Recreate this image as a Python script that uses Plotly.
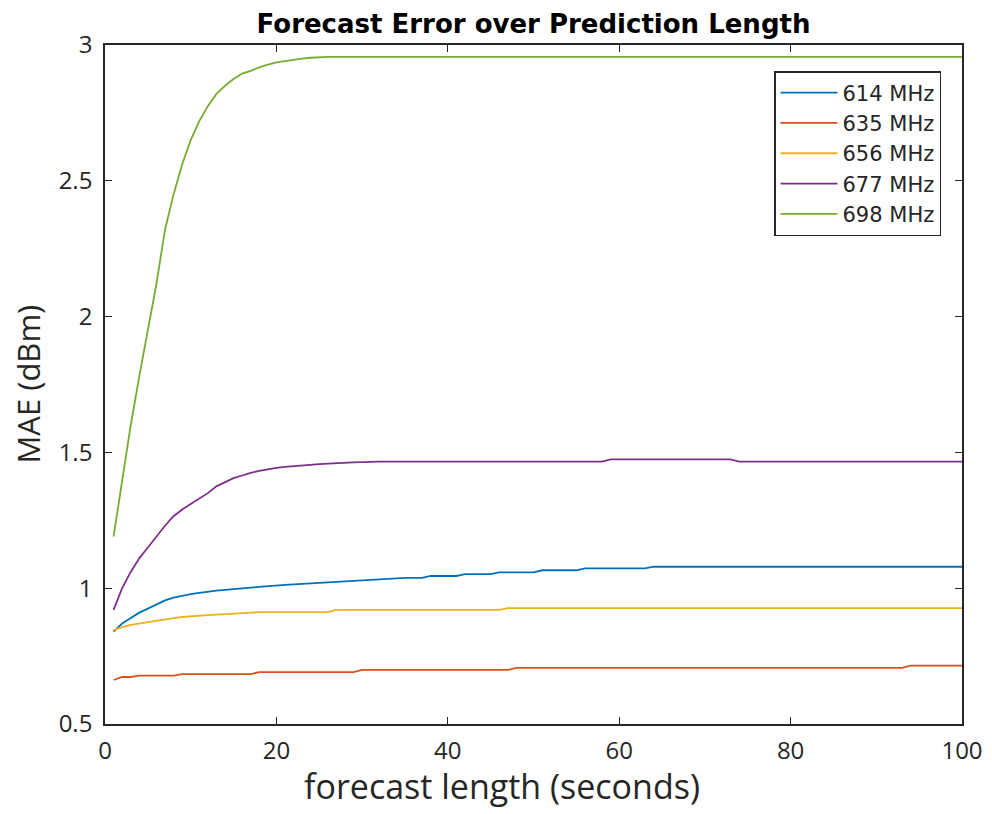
import plotly.graph_objects as go

forecast_len = list(range(1, 101))

series_names = ["614 MHz", "635 MHz", "656 MHz", "677 MHz", "698 MHz"]
series_colors = ["#0072BD", "#D95319", "#EDB120", "#7E2F8E", "#77AC30"]

mae_614 = [0.840, 0.870, 0.890, 0.910, 0.925, 0.940, 0.955, 0.965, 0.972, 0.978,
           0.983, 0.988, 0.991, 0.994, 0.996, 0.999, 1.002, 1.005, 1.008, 1.010,
           1.012, 1.014, 1.016, 1.018, 1.020, 1.022, 1.024, 1.026, 1.028, 1.030,
           1.031, 1.033, 1.035, 1.036, 1.038, 1.038, 1.038, 1.045, 1.045, 1.045,
           1.045, 1.052, 1.052, 1.052, 1.052, 1.058, 1.058, 1.058, 1.058, 1.058,
           1.066, 1.066, 1.066, 1.066, 1.066, 1.073, 1.073, 1.073, 1.073, 1.073,
           1.073, 1.073, 1.073, 1.079, 1.079, 1.079, 1.079, 1.079, 1.079, 1.079,
           1.079, 1.079, 1.079, 1.079, 1.079, 1.079, 1.079, 1.079, 1.079, 1.079,
           1.079, 1.079, 1.079, 1.079, 1.079, 1.079, 1.079, 1.079, 1.079, 1.079,
           1.079, 1.079, 1.079, 1.079, 1.079, 1.079, 1.079, 1.079, 1.079, 1.079]

mae_635 = [0.662, 0.673, 0.673, 0.678, 0.678, 0.678, 0.678, 0.678, 0.684, 0.684,
           0.684, 0.684, 0.684, 0.684, 0.684, 0.684, 0.684, 0.691, 0.691, 0.691,
           0.691, 0.691, 0.691, 0.691, 0.691, 0.691, 0.691, 0.691, 0.691, 0.699,
           0.699, 0.699, 0.699, 0.699, 0.699, 0.699, 0.699, 0.699, 0.699, 0.699,
           0.699, 0.699, 0.699, 0.699, 0.699, 0.699, 0.699, 0.707, 0.707, 0.707,
           0.707, 0.707, 0.707, 0.707, 0.707, 0.707, 0.707, 0.707, 0.707, 0.707,
           0.707, 0.707, 0.707, 0.707, 0.707, 0.707, 0.707, 0.707, 0.707, 0.707,
           0.707, 0.707, 0.707, 0.707, 0.707, 0.707, 0.707, 0.707, 0.707, 0.707,
           0.707, 0.707, 0.707, 0.707, 0.707, 0.707, 0.707, 0.707, 0.707, 0.707,
           0.707, 0.707, 0.707, 0.715, 0.715, 0.715, 0.715, 0.715, 0.715, 0.715]

mae_656 = [0.846, 0.857, 0.865, 0.870, 0.875, 0.882, 0.886, 0.890, 0.894, 0.897,
           0.899, 0.901, 0.903, 0.905, 0.906, 0.908, 0.912, 0.912, 0.912, 0.912,
           0.912, 0.912, 0.912, 0.912, 0.912, 0.912, 0.920, 0.920, 0.920, 0.920,
           0.920, 0.920, 0.920, 0.920, 0.920, 0.920, 0.920, 0.920, 0.920, 0.920,
           0.920, 0.920, 0.920, 0.920, 0.920, 0.920, 0.927, 0.927, 0.927, 0.927,
           0.927, 0.927, 0.927, 0.927, 0.927, 0.927, 0.927, 0.927, 0.927, 0.927,
           0.927, 0.927, 0.927, 0.927, 0.927, 0.927, 0.927, 0.927, 0.927, 0.927,
           0.927, 0.927, 0.927, 0.927, 0.927, 0.927, 0.927, 0.927, 0.927, 0.927,
           0.927, 0.927, 0.927, 0.927, 0.927, 0.927, 0.927, 0.927, 0.927, 0.927,
           0.927, 0.927, 0.927, 0.927, 0.927, 0.927, 0.927, 0.927, 0.927, 0.927]

mae_677 = [0.920, 1.000, 1.060, 1.110, 1.150, 1.190, 1.230, 1.265, 1.290, 1.310,
           1.330, 1.350, 1.375, 1.390, 1.405, 1.415, 1.425, 1.432, 1.438, 1.443,
           1.447, 1.450, 1.453, 1.455, 1.457, 1.459, 1.461, 1.462, 1.463, 1.464,
           1.466, 1.466, 1.466, 1.466, 1.466, 1.466, 1.466, 1.466, 1.466, 1.466,
           1.466, 1.466, 1.466, 1.466, 1.466, 1.466, 1.466, 1.466, 1.466, 1.466,
           1.466, 1.466, 1.466, 1.466, 1.466, 1.466, 1.466, 1.466, 1.474, 1.474,
           1.474, 1.474, 1.474, 1.474, 1.474, 1.474, 1.474, 1.474, 1.474, 1.474,
           1.474, 1.474, 1.474, 1.466, 1.466, 1.466, 1.466, 1.466, 1.466, 1.466,
           1.466, 1.466, 1.466, 1.466, 1.466, 1.466, 1.466, 1.466, 1.466, 1.466,
           1.466, 1.466, 1.466, 1.466, 1.466, 1.466, 1.466, 1.466, 1.466, 1.466]

mae_698 = [1.190, 1.400, 1.600, 1.780, 1.950, 2.120, 2.320, 2.450, 2.560, 2.650,
           2.720, 2.775, 2.820, 2.850, 2.875, 2.895, 2.905, 2.918, 2.928, 2.936,
           2.941, 2.946, 2.950, 2.953, 2.955, 2.956, 2.956, 2.956, 2.956, 2.956,
           2.956, 2.956, 2.956, 2.956, 2.956, 2.956, 2.956, 2.956, 2.956, 2.956,
           2.956, 2.956, 2.956, 2.956, 2.956, 2.956, 2.956, 2.956, 2.956, 2.956,
           2.956, 2.956, 2.956, 2.956, 2.956, 2.956, 2.956, 2.956, 2.956, 2.956,
           2.956, 2.956, 2.956, 2.956, 2.956, 2.956, 2.956, 2.956, 2.956, 2.956,
           2.956, 2.956, 2.956, 2.956, 2.956, 2.956, 2.956, 2.956, 2.956, 2.956,
           2.956, 2.956, 2.956, 2.956, 2.956, 2.956, 2.956, 2.956, 2.956, 2.956,
           2.956, 2.956, 2.956, 2.956, 2.956, 2.956, 2.956, 2.956, 2.956, 2.956]

all_series = [mae_614, mae_635, mae_656, mae_677, mae_698]

x_ticks = [0, 20, 40, 60, 80, 100]
y_ticks = [0.5, 1, 1.5, 2, 2.5, 3]
y_tick_labels = ["0.5", "1", "1.5", "2", "2.5", "3"]

fig = go.Figure()
for name, color, vals in zip(series_names, series_colors, all_series):
    fig.add_trace(go.Scatter(
        x=forecast_len, y=vals, name=name, mode="lines",
        line=dict(color=color, width=1.8), legendgroup=name,
    ))

axis_color = "#262626"
fig.update_layout(
    width=992, height=814,
    paper_bgcolor="white", plot_bgcolor="white",
    margin=dict(l=97, r=38, t=37, b=98),
    title=dict(
        text="<b>Forecast Error over Prediction Length</b>",
        x=0.5, xref="paper", xanchor="center", y=1 - 16 / 814, yanchor="middle",
        yref="container",
        font=dict(family="DejaVu Sans", size=26, color="black"),
    ),
    font=dict(family="Open Sans", color=axis_color),
    showlegend=True,
    legend=dict(
        x=0.9755, xanchor="right", y=0.9617, yanchor="top",
        bgcolor="white", bordercolor=axis_color, borderwidth=1.5,
        font=dict(family="DejaVu Sans", size=21, color=axis_color),
        itemwidth=57, tracegroupgap=0,
    ),
    annotations=[
        dict(text="forecast length (seconds)", xref="paper", yref="paper",
             x=0.463, y=-0.0913, xanchor="center", yanchor="middle",
             showarrow=False,
             font=dict(family="Open Sans", size=34, color=axis_color)),
        dict(text="MAE (dBm)", xref="paper", yref="paper",
             x=-0.091, y=0.5, xanchor="center", yanchor="middle",
             textangle=-90, showarrow=False,
             font=dict(family="Open Sans", size=31, color=axis_color)),
    ],
)
fig.update_xaxes(
    range=[0, 100], tickvals=x_ticks, ticks="inside", ticklen=7,
    tickcolor=axis_color, tickwidth=1.3,
    showline=True, linecolor=axis_color, linewidth=1.6, mirror="ticks",
    showgrid=False, zeroline=False, ticklabelstandoff=4,
    tickfont=dict(family="Open Sans", size=24, color=axis_color),
)
fig.update_yaxes(
    range=[0.5, 3], tickvals=y_ticks, ticktext=y_tick_labels,
    ticks="inside", ticklen=7, tickcolor=axis_color, tickwidth=1.3,
    showline=True, linecolor=axis_color, linewidth=1.6, mirror="ticks",
    showgrid=False, zeroline=False, ticklabelstandoff=6,
    tickfont=dict(family="Open Sans", size=24, color=axis_color),
)

fig.write_html("out.html")
